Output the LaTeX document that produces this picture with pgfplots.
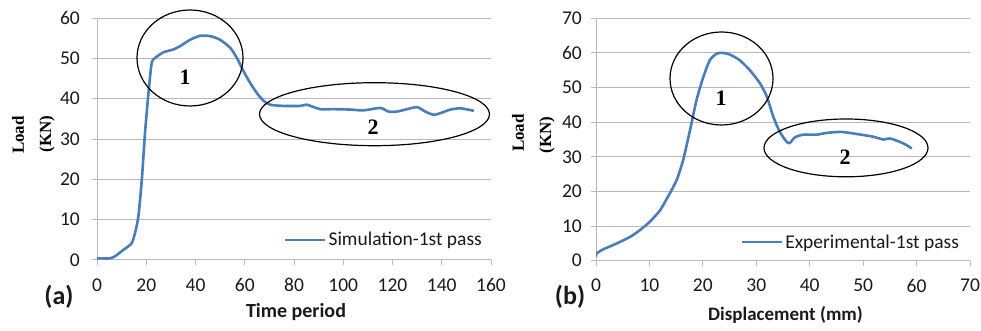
\documentclass[border=0pt]{standalone}
\usepackage{fontspec}
\setmainfont{Carlito}
\newfontfamily\tnr{Liberation Serif}
\usepackage{pgfplots}
\pgfplotsset{compat=1.18}
\definecolor{xlblue}{RGB}{74,126,187}
\definecolor{gridg}{RGB}{185,185,185}
\pgfplotsset{
  common/.style={
    scale only axis, anchor=south west,
    axis x line=bottom, axis y line=left,
    axis line style={draw=gridg, line width=1pt, -},
    ymajorgrids, major grid style={draw=gridg, line width=1pt},
    tick style={draw=gridg, line width=1pt}, tick align=outside, major tick length=5pt,
    /pgf/number format/assume math mode=true,
    ticklabel style={font=\fontsize{19.5}{21}\selectfont, text=black!90},
    xticklabel style={anchor=center, yshift=-20pt},
    yticklabel style={anchor=east, inner sep=0pt},
    legend style={draw=none, fill=none, font=\fontsize{19.5}{21}\selectfont, text=black!90, inner sep=1pt},
    legend image code/.code={\draw[##1] (0pt,0pt) -- (40pt,0pt);},
  },
  dline/.style={xlblue, line width=2.6pt, no markers, smooth, tension=0.4},
}
\begin{document}
\begin{tikzpicture}
\useasboundingbox (0pt,0pt) rectangle (981pt,331pt);
\begin{axis}[common, at={(97pt,71pt)}, width=394pt, height=242pt,
  xmin=0, xmax=160, ymin=0, ymax=60,
  xtick={0,20,...,160}, ytick={0,10,...,60},
  yticklabel style={xshift=-12pt},
  legend style={at={(axis description cs:0.985,0.083)}, anchor=east}]
\addplot[dline] coordinates {
(0,0.4)(1.2,0.4)(5.3,0.4)(7,0.8)(10.7,2.5)(14,4.1)(15.4,6.6)(16.8,10.8)(18.2,19.9)(19.5,31.5)(20.9,41.4)(22.2,48.8)(23.6,50.1)(27,51.5)(31,52.2)(33.7,53)(37.8,54.6)(41.9,55.6)(46,55.5)(50,54.6)(54.1,52.6)(56.8,50.1)(59.5,46.8)(62.2,43.9)(64.9,41.4)(67.6,39.5)(70.3,38.5)(75.7,38.2)(82.5,38.2)(85.2,38.5)(90.6,37.4)(96,37.4)(102.8,37.3)(108.3,37.1)(115,37.7)(118.4,36.8)(121.8,36.8)(125.9,37.4)(130,37.9)(133.3,36.8)(136.7,36)(139.4,36.4)(143.5,37.3)(147.6,37.6)(153,37)
};
\addlegendentry{Simulation-1st pass}
\end{axis}
\begin{axis}[common, at={(596pt,70.3pt)}, width=374pt, height=242.4pt,
  xmin=0, xmax=70, ymin=0, ymax=70,
  xtick={0,10,...,70}, ytick={0,10,...,70},
  yticklabel style={xshift=-9pt},
  legend style={at={(axis description cs:0.979,0.077)}, anchor=east}]
\addplot[dline] coordinates {
(0,1.2)(0.1,2.1)(1.4,3.3)(3.9,5)(6.4,6.9)(8.2,8.8)(10.1,11.3)(12,14.6)(13.8,19.4)(15.1,23.3)(16.3,29)(17.6,37.7)(18.8,46.3)(20.1,53.1)(21.3,57.9)(22.6,59.8)(23.8,60)(25.1,59.5)(26.9,57.9)(28.8,55)(30.7,51.2)(32,47.3)(33.2,41.5)(34.4,37.2)(35.7,34.3)(36.3,34)(37.2,35.6)(38.8,36.4)(41.3,36.4)(43.2,36.9)(45.7,37.2)(47.5,36.9)(50,36.3)(51.9,35.8)(53.8,35)(55,35.3)(56.9,34.3)(58.1,33.4)(59.1,32.4)
};
\addlegendentry{Experimental-1st pass}
\end{axis}
% annotations
\draw[black, line width=1.2pt] (190pt,273pt) ellipse [x radius=53pt, y radius=48pt];
\draw[black, line width=1.2pt] (374.5pt,216.8pt) ellipse [x radius=115pt, y radius=31.5pt];
\draw[black, line width=1.2pt] (721.5pt,252.5pt) ellipse [x radius=51.5pt, y radius=46.5pt];
\draw[black, line width=1.2pt] (846pt,183.1pt) ellipse [x radius=82pt, y radius=28.9pt];
\node[font=\tnr\bfseries\fontsize{22}{24}\selectfont] at (185pt,254pt) {1};
\node[font=\tnr\bfseries\fontsize{22}{24}\selectfont] at (373pt,204pt) {2};
\node[font=\tnr\bfseries\fontsize{22}{24}\selectfont] at (721pt,233pt) {1};
\node[font=\tnr\bfseries\fontsize{22}{24}\selectfont] at (845pt,174pt) {2};
\node[rotate=90, font=\tnr\bfseries\fontsize{17}{19}\selectfont] at (18pt,196pt) {Load};
\node[rotate=90, font=\tnr\bfseries\fontsize{17}{19}\selectfont] at (47pt,197pt) {(KN)};
\node[rotate=90, font=\tnr\bfseries\fontsize{17}{19}\selectfont] at (518pt,198pt) {Load};
\node[rotate=90, font=\tnr\bfseries\fontsize{17}{19}\selectfont] at (547pt,196pt) {(KN)};
\node[font=\bfseries\fontsize{20}{22}\selectfont, text=black!90] at (296pt,19pt) {Time period};
\node[font=\bfseries\fontsize{19}{21}\selectfont, text=black!90] at (785.5pt,16pt) {Displacement (mm)};
\node[font=\bfseries\fontsize{26}{28}\selectfont, text=black!90] at (59pt,34pt) {(a)};
\node[font=\bfseries\fontsize{26}{28}\selectfont, text=black!90] at (570pt,34pt) {(b)};
\end{tikzpicture}
\end{document}
